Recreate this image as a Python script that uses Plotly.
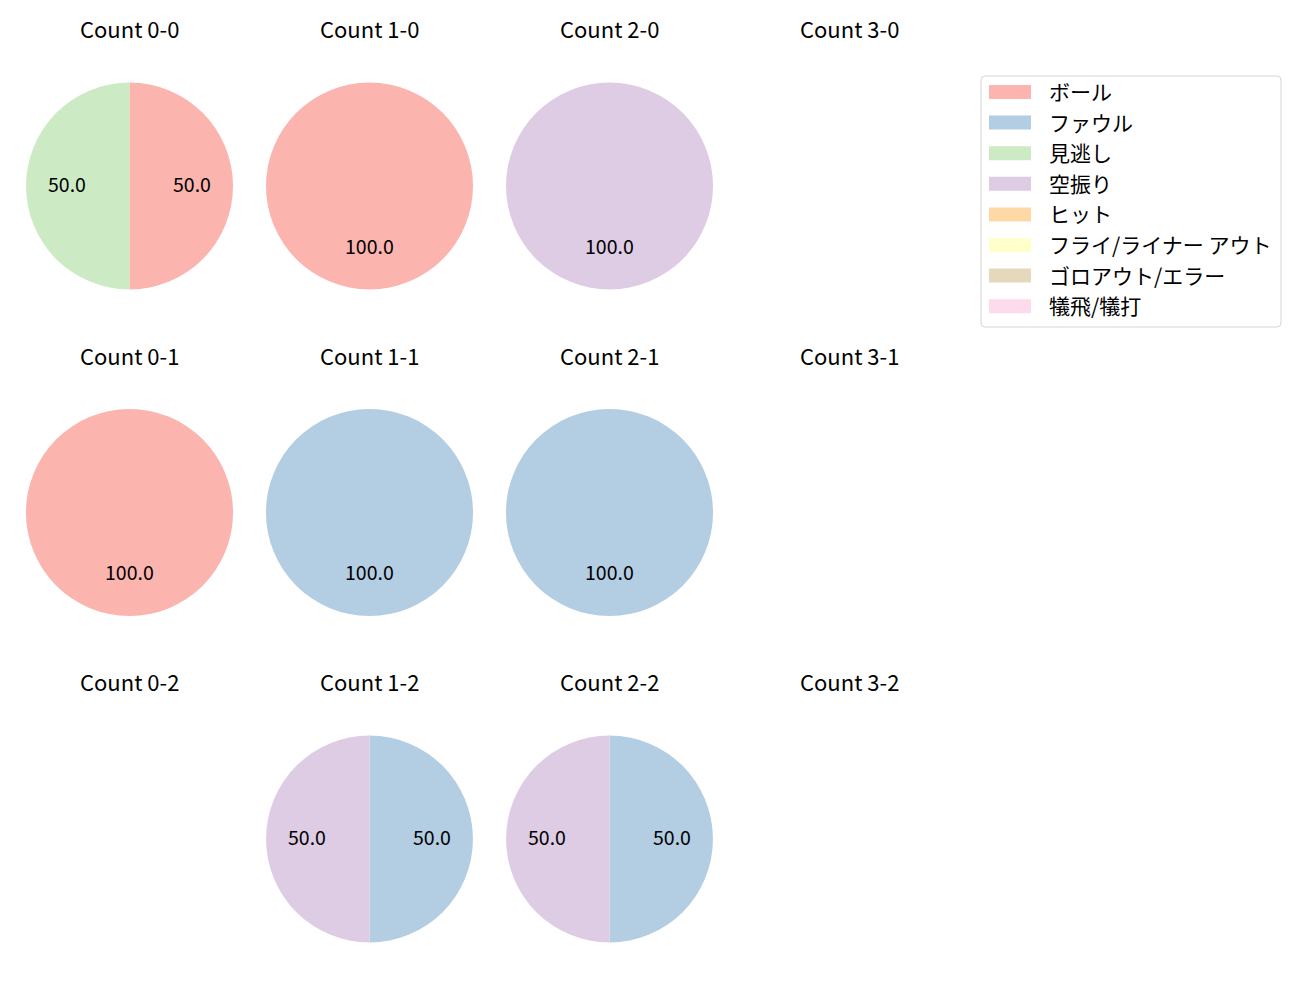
import math
import plotly.graph_objects as go

# ---- data ----
categories = ['ボール', 'ファウル', '見逃し', '空振り', 'ヒット',
              'フライ/ライナー アウト', 'ゴロアウト/エラー', '犠飛/犠打']
colors = ['#fbb4ae', '#b3cde3', '#ccebc5', '#decbe4', '#fed9a6',
          '#ffffcc', '#e5d8bd', '#fddaec']
balls = [0, 1, 2, 3]
strikes = [0, 1, 2]
# counts per (balls, strikes): values aligned to categories
count_0_0 = [1, 0, 1, 0, 0, 0, 0, 0]
count_1_0 = [1, 0, 0, 0, 0, 0, 0, 0]
count_2_0 = [0, 0, 0, 1, 0, 0, 0, 0]
count_3_0 = [0, 0, 0, 0, 0, 0, 0, 0]
count_0_1 = [1, 0, 0, 0, 0, 0, 0, 0]
count_1_1 = [0, 1, 0, 0, 0, 0, 0, 0]
count_2_1 = [0, 1, 0, 0, 0, 0, 0, 0]
count_3_1 = [0, 0, 0, 0, 0, 0, 0, 0]
count_0_2 = [0, 0, 0, 0, 0, 0, 0, 0]
count_1_2 = [0, 1, 0, 1, 0, 0, 0, 0]
count_2_2 = [0, 1, 0, 1, 0, 0, 0, 0]
count_3_2 = [0, 0, 0, 0, 0, 0, 0, 0]
data = {
    (0, 0): count_0_0, (1, 0): count_1_0, (2, 0): count_2_0, (3, 0): count_3_0,
    (0, 1): count_0_1, (1, 1): count_1_1, (2, 1): count_2_1, (3, 1): count_3_1,
    (0, 2): count_0_2, (1, 2): count_1_2, (2, 2): count_2_2, (3, 2): count_3_2,
}

# ---- layout geometry (pixels) ----
W, H = 1300, 1000
OFF = 8  # page body margin
FONT = 'Noto Sans CJK JP'
X0, DX = 129.5, 240.0
Y0, DY = 186.0, 326.5
R = 103.5
TITLE_OFF = 158.0
LABEL_R = 0.6
LABEL_SHIFT = 3.0


def px(x):
    return (x - OFF) / W


def py(y):
    return 1 - (y - OFF) / H


fig = go.Figure()
annotations = []

for s in strikes:
    for b in balls:
        cx = X0 + DX * b
        cy = Y0 + DY * s
        vals = data[(b, s)]
        annotations.append(dict(
            x=px(cx), y=py(cy - TITLE_OFF), xref='paper', yref='paper',
            text=f'Count {b}-{s}', showarrow=False,
            font=dict(family=FONT, size=22, color='#000000'),
            xanchor='center', yanchor='middle'))
        total = sum(vals)
        if total == 0:
            continue
        labs = [c for c, v in zip(categories, vals) if v > 0]
        vs = [v for v in vals if v > 0]
        cols = [col for col, v in zip(colors, vals) if v > 0]
        fig.add_trace(go.Pie(
            labels=labs, values=vs, sort=False, direction='clockwise',
            rotation=0, textinfo='none', hoverinfo='label+percent',
            marker=dict(colors=cols, line=dict(width=0)),
            domain=dict(x=[px(cx - R), px(cx + R)], y=[py(cy + R), py(cy - R)]),
            showlegend=False))
        cum = 0
        for v in vs:
            phi = 2 * math.pi * (cum + v / 2) / total
            cum += v
            lx = cx + LABEL_R * R * math.sin(phi)
            ly = cy - LABEL_R * R * math.cos(phi) - LABEL_SHIFT
            annotations.append(dict(
                x=px(lx), y=py(ly), xref='paper', yref='paper',
                text=f'{100 * v / total:.1f}', showarrow=False,
                font=dict(family=FONT, size=19.5, color='#000000'),
                xanchor='center', yanchor='middle'))

# ---- legend drawn manually ----
shapes = []
LX0, LY0, LX1, LY1, RAD = 981, 76, 1281, 327, 4
path = (f'M {px(LX0 + RAD)} {py(LY0)} L {px(LX1 - RAD)} {py(LY0)} '
        f'Q {px(LX1)} {py(LY0)} {px(LX1)} {py(LY0 + RAD)} '
        f'L {px(LX1)} {py(LY1 - RAD)} Q {px(LX1)} {py(LY1)} {px(LX1 - RAD)} {py(LY1)} '
        f'L {px(LX0 + RAD)} {py(LY1)} Q {px(LX0)} {py(LY1)} {px(LX0)} {py(LY1 - RAD)} '
        f'L {px(LX0)} {py(LY0 + RAD)} Q {px(LX0)} {py(LY0)} {px(LX0 + RAD)} {py(LY0)} Z')
shapes.append(dict(type='path', path=path, xref='paper', yref='paper',
                   line=dict(color='#d6d6d6', width=1), fillcolor='rgba(255,255,255,0.8)'))
for i, (cat, col) in enumerate(zip(categories, colors)):
    yc = 92 + 30.6 * i
    shapes.append(dict(type='rect', xref='paper', yref='paper',
                       x0=px(989), x1=px(1031), y0=py(yc - 7), y1=py(yc + 7),
                       fillcolor=col, line=dict(width=0)))
    annotations.append(dict(
        x=px(1047), y=py(yc - 1), xref='paper', yref='paper', text=cat,
        showarrow=False, xanchor='left', yanchor='middle',
        font=dict(family=FONT, size=21, color='#000000')))

fig.update_layout(
    width=W, height=H, autosize=False,
    margin=dict(l=0, r=0, t=0, b=0),
    paper_bgcolor='white', plot_bgcolor='white',
    showlegend=False,
    annotations=annotations, shapes=shapes,
    font=dict(family=FONT),
)

fig.write_html('out.html')
